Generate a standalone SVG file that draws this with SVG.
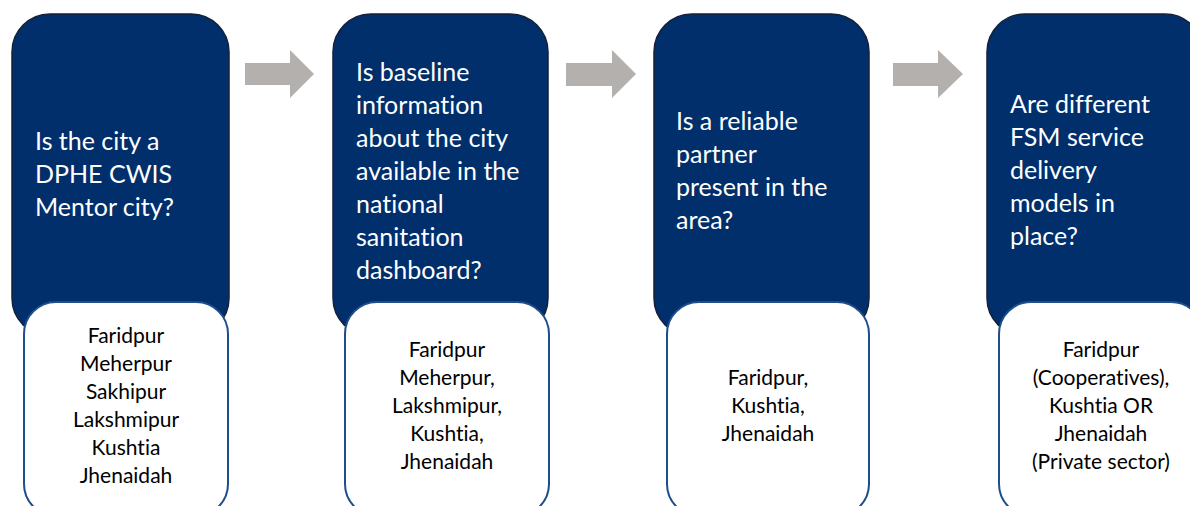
<svg xmlns="http://www.w3.org/2000/svg" width="1190" height="506" viewBox="0 0 1190 506">
<style>
.q{fill:#002F6C;stroke:#14213a;stroke-width:1.5}
.a{fill:#FFFFFF;stroke:#1F4E8D;stroke-width:2}
.qt{font-family:Lato,"Open Sans","DejaVu Sans",sans-serif;font-size:25px;fill:#FFFFFF;font-variant-ligatures:none;font-feature-settings:"liga" 0}
.at{font-family:Lato,"Open Sans","DejaVu Sans",sans-serif;font-size:21px;fill:#000000;text-anchor:middle;font-variant-ligatures:none;font-feature-settings:"liga" 0}
.arr{fill:#B3B0AE}
</style>
<rect width="1190" height="506" fill="#FFFFFF"/>
<g id="connectors">
<polygon class="arr" points="245,63 290,63 290,50 314,74 290,98 290,85 245,85"/>
<polygon class="arr" points="566,63 612,63 612,50 636,74 612,98 612,86 566,86"/>
<polygon class="arr" points="893,63 938,63 938,50 963,74 938,98 938,86 893,86"/>
</g>
<g id="node1">
<rect class="q" x="12" y="14" width="217" height="322" rx="38"/>
<rect class="a" x="24" y="302" width="204" height="214" rx="32"/>
<text class="qt" x="35" y="150">Is the city a</text>
<text class="qt" x="35" y="183">DPHE CWIS</text>
<text class="qt" x="35" y="216">Mentor city?</text>
<text class="at" x="126" y="343">Faridpur</text>
<text class="at" x="126" y="371">Meherpur</text>
<text class="at" x="126" y="399">Sakhipur</text>
<text class="at" x="126" y="427">Lakshmipur</text>
<text class="at" x="126" y="455">Kushtia</text>
<text class="at" x="126" y="483">Jhenaidah</text>
</g>
<g id="node2">
<rect class="q" x="333" y="14" width="215" height="322" rx="38"/>
<rect class="a" x="345" y="302" width="204" height="214" rx="32"/>
<text class="qt" x="356" y="81">Is baseline</text>
<text class="qt" x="356" y="114">information</text>
<text class="qt" x="356" y="147">about the city</text>
<text class="qt" x="356" y="180">available in the</text>
<text class="qt" x="356" y="213">national</text>
<text class="qt" x="356" y="246">sanitation</text>
<text class="qt" x="356" y="279">dashboard?</text>
<text class="at" x="447" y="357">Faridpur</text>
<text class="at" x="447" y="385">Meherpur,</text>
<text class="at" x="447" y="413">Lakshmipur,</text>
<text class="at" x="447" y="441">Kushtia,</text>
<text class="at" x="447" y="469">Jhenaidah</text>
</g>
<g id="node3">
<rect class="q" x="654" y="14" width="215" height="322" rx="38"/>
<rect class="a" x="667" y="302" width="202" height="214" rx="32"/>
<text class="qt" x="676" y="130">Is a reliable</text>
<text class="qt" x="676" y="163">partner</text>
<text class="qt" x="676" y="196">present in the</text>
<text class="qt" x="676" y="229">area?</text>
<text class="at" x="768" y="385">Faridpur,</text>
<text class="at" x="768" y="413">Kushtia,</text>
<text class="at" x="768" y="441">Jhenaidah</text>
</g>
<g id="node4">
<rect class="q" x="987" y="14" width="216" height="322" rx="38"/>
<rect class="a" x="999" y="302" width="204" height="214" rx="32"/>
<text class="qt" x="1010" y="113">Are different</text>
<text class="qt" x="1010" y="146">FSM service</text>
<text class="qt" x="1010" y="179">delivery</text>
<text class="qt" x="1010" y="212">models in</text>
<text class="qt" x="1010" y="245">place?</text>
<text class="at" x="1101" y="357">Faridpur</text>
<text class="at" x="1101" y="385">(Cooperatives),</text>
<text class="at" x="1101" y="413">Kushtia OR</text>
<text class="at" x="1101" y="441">Jhenaidah</text>
<text class="at" x="1101" y="469">(Private sector)</text>
</g>
</svg>
